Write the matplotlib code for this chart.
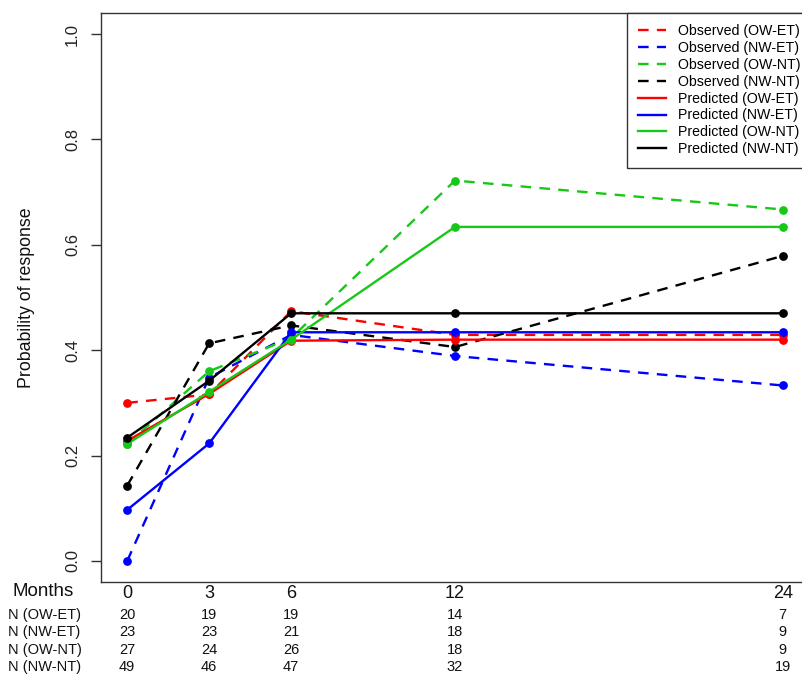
import numpy as np
import matplotlib
matplotlib.use("Agg")
import matplotlib.pyplot as plt
from matplotlib.lines import Line2D
from matplotlib.transforms import blended_transform_factory

plt.rcParams['font.family'] = ['Liberation Sans', 'DejaVu Sans']

months = [0, 3, 6, 12, 24]
groups = ['OW-ET', 'NW-ET', 'OW-NT', 'NW-NT']
colors = ['#ff0000', '#0000ff', '#18c818', '#000000']

# observed proportions
obs_ow_et = [0.300, 0.316, 0.474, 0.429, 0.429]
obs_nw_et = [0.000, 0.348, 0.429, 0.389, 0.333]
obs_ow_nt = [0.222, 0.360, 0.423, 0.722, 0.667]
obs_nw_nt = [0.143, 0.413, 0.447, 0.406, 0.579]

# model predictions
pred_ow_et = [0.228, 0.317, 0.418, 0.420, 0.420]
pred_nw_et = [0.097, 0.223, 0.434, 0.434, 0.434]
pred_ow_nt = [0.222, 0.321, 0.420, 0.634, 0.634]
pred_nw_nt = [0.234, 0.342, 0.470, 0.470, 0.470]

# sample sizes per group and month
n_ow_et = [20, 19, 19, 14, 7]
n_nw_et = [23, 23, 21, 18, 9]
n_ow_nt = [27, 24, 26, 18, 9]
n_nw_nt = [49, 46, 47, 32, 19]

observed = [obs_ow_et, obs_nw_et, obs_ow_nt, obs_nw_nt]
predicted = [pred_ow_et, pred_nw_et, pred_ow_nt, pred_nw_nt]
counts = [n_ow_et, n_nw_et, n_ow_nt, n_nw_nt]

W, H = 802, 674
fig = plt.figure(figsize=(W / 100, H / 100), dpi=100)


def fy(py):
    # pixel row -> figure fraction
    return 1 - py / H


# axes box runs a bit past the right edge, like the cropped original
ax = fig.add_axes([101 / W, fy(582), 708 / W, (582 - 13) / H])

dash = (0, (4.5, 3.5))
for ys, c in zip(observed, colors):
    ax.plot(months, ys, color=c, lw=1.7, linestyle=dash,
            marker='o', markersize=6.3, markeredgewidth=0)
for ys, c in zip(predicted, colors):
    ax.plot(months, ys, color=c, lw=1.7, linestyle='-',
            marker='o', markersize=6.3, markeredgewidth=0)

ax.set_xlim(-0.96, 24.96)
ax.set_ylim(-0.04, 1.04)

ax.set_yticks([0.0, 0.2, 0.4, 0.6, 0.8, 1.0])
ax.set_yticklabels(['0.0', '0.2', '0.4', '0.6', '0.8', '1.0'],
                   rotation=90, va='center', fontsize=12, color='#222222')
ax.tick_params(axis='y', length=7, width=1.0, color='#333333', pad=8)

ax.set_xticks(months)
ax.set_xticklabels([str(m) for m in months], fontsize=13, color='#111111')
ax.tick_params(axis='x', length=0, pad=2)

for s in ax.spines.values():
    s.set_linewidth(1.0)
    s.set_color('#333333')

fig.text(27 / W, fy(297.5), 'Probability of response', rotation=90,
         ha='center', va='center', fontsize=12.8, color='#111111')

fig.text(74 / W, fy(591.5), 'Months', ha='right', va='center',
         fontsize=13.5, color='#111111')

# table of N values under the axis
trans = blended_transform_factory(ax.transData, fig.transFigure)
row_y = [615, 632.3, 649.6, 667]
for g, ns, py in zip(groups, counts, row_y):
    fig.text(8 / W, fy(py), 'N (%s)' % g, ha='left', va='center',
             fontsize=10.5, color='#111111')
    for m, n in zip(months, ns):
        ax.text(m, fy(py), str(n), transform=trans, ha='center',
                va='center', fontsize=10.5, color='#111111')

handles = []
labels = []
for g, c in zip(groups, colors):
    handles.append(Line2D([], [], color=c, lw=1.7, linestyle=dash))
    labels.append('Observed (%s)' % g)
for g, c in zip(groups, colors):
    handles.append(Line2D([], [], color=c, lw=1.7, linestyle='-'))
    labels.append('Predicted (%s)' % g)

# legend box stretched to the axes' right edge, which is off the picture
x0 = (627 - 101) / 708
leg = ax.legend(handles, labels, loc='upper left', mode='expand',
                bbox_to_anchor=(x0, 0.0, 1.0 - x0, 1.0), borderaxespad=0,
                fontsize=10.2, frameon=True, fancybox=False, framealpha=1,
                edgecolor='#333333', handlelength=1.95, handletextpad=0.85,
                labelspacing=0.2, borderpad=0.8)
leg.get_frame().set_linewidth(1.0)

fig.savefig('out.png', dpi=100)
